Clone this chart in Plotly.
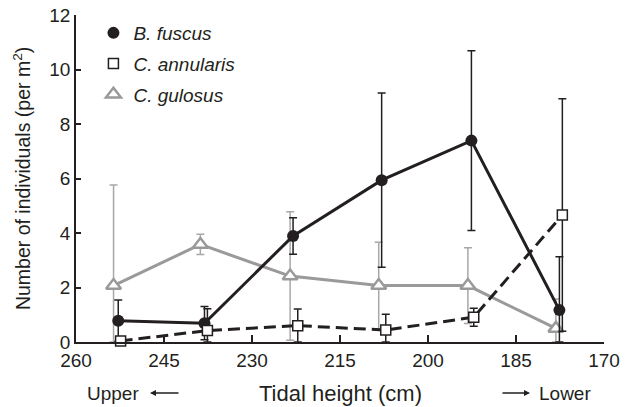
import plotly.graph_objects as go

# Data
fuscus_x = [252.8, 238.1, 223.0, 207.9, 192.6, 177.6]
fuscus_y = [0.78, 0.69, 3.89, 5.94, 7.39, 1.17]
fuscus_err = [0.76, 0.61, 0.67, 3.2, 3.3, 1.96]

annularis_x = [252.4, 237.6, 222.2, 207.2, 192.2, 177.1]
annularis_y = [0.04, 0.42, 0.60, 0.44, 0.91, 4.66]
annularis_err = [0.0, 0.8, 0.61, 0.58, 0.33, 4.27]

gulosus_x = [253.6, 238.8, 223.5, 208.4, 193.2, 178.2]
gulosus_y = [2.07, 3.58, 2.42, 2.07, 2.07, 0.50]
gulosus_err = [3.69, 0.37, 2.36, 1.59, 1.39, 1.08]

x_ticks = [260, 245, 230, 215, 200, 185, 170]
y_ticks = [0, 2, 4, 6, 8, 10, 12]

INK = "#231f20"
GRAY = "#9a9a9a"
FONT = "Liberation Sans, Arial, sans-serif"


def minus(y, e):
    return [min(a, b) for a, b in zip(y, e)]


fig = go.Figure()

fig.add_trace(go.Scatter(
    x=gulosus_x, y=gulosus_y, mode="lines+markers", showlegend=False,
    line=dict(color=GRAY, width=3),
    marker=dict(symbol="triangle-up", size=13, color="white",
                line=dict(color=GRAY, width=2.5)),
    error_y=dict(type="data", array=gulosus_err,
                 arrayminus=minus(gulosus_y, gulosus_err),
                 color="#a8a8a8", thickness=1.5, width=4),
    cliponaxis=False,
))
fig.add_trace(go.Scatter(
    x=fuscus_x, y=fuscus_y, mode="lines+markers", showlegend=False,
    line=dict(color=INK, width=3),
    marker=dict(symbol="circle", size=12, color=INK),
    error_y=dict(type="data", array=fuscus_err,
                 arrayminus=minus(fuscus_y, fuscus_err),
                 color=INK, thickness=1.5, width=4),
    cliponaxis=False,
))
fig.add_trace(go.Scatter(
    x=annularis_x, y=annularis_y, mode="lines+markers", showlegend=False,
    line=dict(color=INK, width=3, dash="12px,6px"),
    marker=dict(symbol="square", size=10, color="white",
                line=dict(color=INK, width=1.5)),
    error_y=dict(type="data", array=annularis_err,
                 arrayminus=minus(annularis_y, annularis_err),
                 color=INK, thickness=1.5, width=4),
    cliponaxis=False,
))

# legend-only marker entries
fig.add_trace(go.Scatter(x=[None], y=[None], mode="markers", name="<i>B. fuscus</i>",
                         legendgroup="a",
                         marker=dict(symbol="circle", size=12, color=INK)))
fig.add_trace(go.Scatter(x=[None], y=[None], mode="markers", name="<i>C. annularis</i>",
                         legendgroup="b",
                         marker=dict(symbol="square", size=10, color="white",
                                     line=dict(color=INK, width=1.5))))
fig.add_trace(go.Scatter(x=[None], y=[None], mode="markers", name="<i>C. gulosus</i>",
                         legendgroup="c",
                         marker=dict(symbol="triangle-up", size=13, color="white",
                                     line=dict(color=GRAY, width=2.5))))

BY = -0.156

fig.update_layout(
    width=630, height=407,
    margin=dict(l=76, r=26, t=15, b=65, autoexpand=False),
    paper_bgcolor="white", plot_bgcolor="white",
    font=dict(family=FONT, size=19, color=INK),
    legend=dict(x=0.033, y=1.003, xanchor="left", yanchor="top",
                bgcolor="rgba(0,0,0,0)", font=dict(size=19, color=INK),
                itemsizing="trace", tracegroupgap=3),
    xaxis=dict(range=[260, 170], tickvals=x_ticks, ticks="inside", ticklen=7,
               tickwidth=1.5, tickcolor=INK, showline=True, linecolor=INK,
               linewidth=1.5, showgrid=False, zeroline=False, automargin=False,
               ticklabeloverflow="allow", tickfont=dict(size=19, color=INK)),
    yaxis=dict(range=[0, 12], tickvals=y_ticks, ticks="inside", ticklen=5,
               tickwidth=1.5, tickcolor=INK, showline=True, linecolor=INK,
               linewidth=1.5, showgrid=False, zeroline=False, automargin=False,
               ticklabeloverflow="allow", tickfont=dict(size=19, color=INK)),
    annotations=[
        dict(text="Tidal height (cm)", xref="paper", yref="paper", x=0.5, y=BY,
             xanchor="center", yanchor="middle", showarrow=False,
             font=dict(size=22, color=INK)),
        dict(text="Number of individuals (per m<sup>2</sup>)", xref="paper", yref="paper",
             x=-0.103, y=0.5, xanchor="center", yanchor="middle", textangle=-90,
             showarrow=False, font=dict(size=19.5, color=INK)),
        dict(text="Upper", xref="paper", yref="paper", x=(85 - 76) / 528, y=BY,
             xanchor="left", yanchor="middle", showarrow=False,
             font=dict(size=19, color=INK)),
        dict(text="Lower", xref="paper", yref="paper", x=(593 - 76) / 528, y=BY,
             xanchor="right", yanchor="middle", showarrow=False,
             font=dict(size=19, color=INK)),
        dict(text="", xref="paper", yref="paper", x=(150 - 76) / 528, y=BY,
             ax=30, ay=0, axref="pixel", ayref="pixel", showarrow=True,
             arrowhead=2, arrowsize=0.8, arrowwidth=1.5, arrowcolor=INK),
        dict(text="", xref="paper", yref="paper", x=(530 - 76) / 528, y=BY,
             ax=-29, ay=0, axref="pixel", ayref="pixel", showarrow=True,
             arrowhead=2, arrowsize=0.8, arrowwidth=1.5, arrowcolor=INK),
    ],
)

fig.write_html("out.html", config={"displayModeBar": False},
               post_script="document.body.style.margin='0px';")
